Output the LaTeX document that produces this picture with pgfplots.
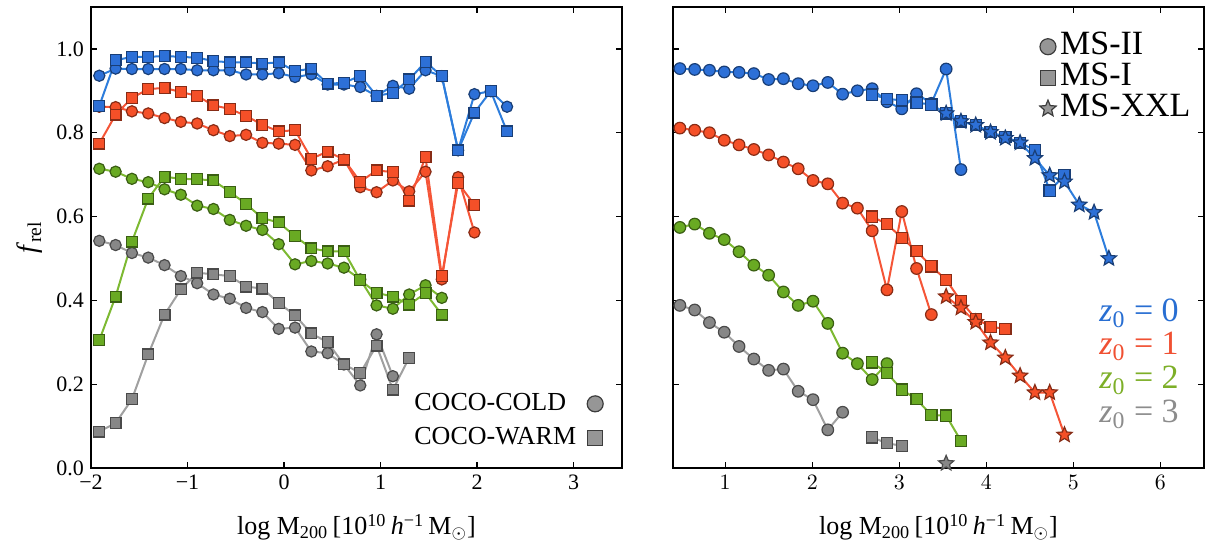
\documentclass[border=0pt]{standalone}
\usepackage{pgfplots}
\pgfplotsset{compat=1.18}
\usepackage{fontspec}
\setmainfont{Liberation Serif}

\definecolor{lb}{RGB}{45,125,220}
\definecolor{fb}{RGB}{45,112,215}
\definecolor{lr}{RGB}{245,85,55}
\definecolor{fr}{RGB}{245,80,40}
\definecolor{lgr}{RGB}{125,185,50}
\definecolor{fg}{RGB}{105,170,35}
\definecolor{lk}{RGB}{160,160,160}
\definecolor{fk}{RGB}{135,135,135}
\definecolor{legf}{RGB}{150,150,150}
\definecolor{lege}{RGB}{60,60,60}
\definecolor{tb}{RGB}{40,110,210}
\definecolor{tr}{RGB}{240,80,50}
\definecolor{tg}{RGB}{125,175,40}
\definecolor{tk}{RGB}{140,140,140}

\pgfdeclareplotmark{fstar}{%
  \pgfpathmoveto{\pgfpointpolar{90}{\pgfplotmarksize}}%
  \pgfpathlineto{\pgfpointpolar{126}{0.45\pgfplotmarksize}}%
  \pgfpathlineto{\pgfpointpolar{162}{\pgfplotmarksize}}%
  \pgfpathlineto{\pgfpointpolar{198}{0.45\pgfplotmarksize}}%
  \pgfpathlineto{\pgfpointpolar{234}{\pgfplotmarksize}}%
  \pgfpathlineto{\pgfpointpolar{270}{0.45\pgfplotmarksize}}%
  \pgfpathlineto{\pgfpointpolar{306}{\pgfplotmarksize}}%
  \pgfpathlineto{\pgfpointpolar{342}{0.45\pgfplotmarksize}}%
  \pgfpathlineto{\pgfpointpolar{18}{\pgfplotmarksize}}%
  \pgfpathlineto{\pgfpointpolar{54}{0.45\pgfplotmarksize}}%
  \pgfpathclose
  \pgfusepathqfillstroke}

\pgfplotsset{
  ser/.style 2 args={color=#1, line width=1pt, forget plot,
    mark options={fill=#2, draw=#2!55!black, line width=0.6pt, solid}},
  panel/.style={scale only axis, width=265.4pt, height=230.5pt,
    ymin=0, ymax=1.1, ytick={0,0.2,0.4,0.6,0.8,1},
    tick align=inside, axis line style={line width=0.8pt},
    major tick length=3pt, tick style={line width=0.6pt, black},
    ticklabel style={font=\fontsize{11}{13}\selectfont},
    xlabel style={at={(rel axis cs:0.5,0)}, anchor=base, yshift=-33.5pt,
      font=\fontsize{13}{15}\selectfont},
    xlabel={log M\textsubscript{200}\,[10\textsuperscript{10}\,\textit{h}\textsuperscript{−1}\,M$_\odot$]},
    legend image code/.code={\draw[##1] plot coordinates {(0pt,0pt)};},
  },
}

\begin{document}
\begin{tikzpicture}
\path[use as bounding box] (0,0) rectangle (605.5pt,272.5pt);
\begin{axis}[panel, at={(45.5pt,38.5pt)}, anchor=south west,
  xmin=-2, xmax=3.5, xtick={-2,-1,0,1,2,3}, xticklabels={−2,−1,0,1,2,3},
  yticklabels={0.0,0.2,0.4,0.6,0.8,1.0},
  legend cell align=left, legend plot pos=right,
  legend style={draw=none, fill=none, at={(0.977,0.019)}, anchor=south east,
    font=\fontsize{13}{13}\selectfont, column sep=5.5pt, row sep=0pt,
    nodes={inner sep=0pt, text height=12pt, text depth=5pt}},
]
% gray z0=3
\addplot[ser={lk}{fk}, mark=*, mark size=2.8pt] coordinates {(-1.914,0.542)(-1.745,0.532)(-1.576,0.513)(-1.407,0.502)(-1.238,0.484)(-1.069,0.458)(-0.900,0.441)(-0.731,0.414)(-0.562,0.404)(-0.393,0.382)(-0.224,0.372)(-0.055,0.332)(0.114,0.335)(0.283,0.278)(0.452,0.274)(0.621,0.247)(0.790,0.197)(0.959,0.319)(1.128,0.219)};
\addplot[ser={lk}{fk}, mark=square*, mark size=2.7pt] coordinates {(-1.914,0.087)(-1.745,0.107)(-1.576,0.164)(-1.407,0.271)(-1.238,0.366)(-1.069,0.426)(-0.900,0.466)(-0.731,0.462)(-0.562,0.458)(-0.393,0.433)(-0.224,0.428)(-0.055,0.394)(0.114,0.364)(0.283,0.321)(0.452,0.300)(0.621,0.247)(0.790,0.227)(0.959,0.292)(1.128,0.187)(1.297,0.263)};
% green z0=2
\addplot[ser={lgr}{fg}, mark=*, mark size=2.8pt] coordinates {(-1.914,0.714)(-1.745,0.707)(-1.576,0.690)(-1.407,0.682)(-1.238,0.665)(-1.069,0.652)(-0.900,0.626)(-0.731,0.618)(-0.562,0.592)(-0.393,0.578)(-0.224,0.568)(-0.055,0.534)(0.114,0.486)(0.283,0.494)(0.452,0.488)(0.621,0.478)(0.790,0.450)(0.959,0.388)(1.128,0.380)(1.297,0.414)(1.466,0.436)(1.635,0.406)};
\addplot[ser={lgr}{fg}, mark=square*, mark size=2.7pt] coordinates {(-1.914,0.305)(-1.745,0.409)(-1.576,0.540)(-1.407,0.643)(-1.238,0.695)(-1.069,0.690)(-0.900,0.689)(-0.731,0.686)(-0.562,0.659)(-0.393,0.630)(-0.224,0.596)(-0.055,0.586)(0.114,0.553)(0.283,0.524)(0.452,0.517)(0.621,0.517)(0.790,0.448)(0.959,0.418)(1.128,0.409)(1.297,0.390)(1.466,0.417)(1.635,0.366)};
% red z0=1
\addplot[ser={lr}{fr}, mark=*, mark size=2.8pt] coordinates {(-1.914,0.862)(-1.745,0.861)(-1.576,0.851)(-1.407,0.846)(-1.238,0.835)(-1.069,0.826)(-0.900,0.822)(-0.731,0.806)(-0.562,0.792)(-0.393,0.795)(-0.224,0.776)(-0.055,0.774)(0.114,0.771)(0.283,0.710)(0.452,0.720)(0.621,0.736)(0.790,0.670)(0.959,0.658)(1.128,0.686)(1.297,0.660)(1.466,0.707)(1.635,0.450)(1.804,0.694)(1.973,0.562)};
\addplot[ser={lr}{fr}, mark=square*, mark size=2.7pt] coordinates {(-1.914,0.774)(-1.745,0.843)(-1.576,0.883)(-1.407,0.904)(-1.238,0.907)(-1.069,0.897)(-0.900,0.888)(-0.731,0.865)(-0.562,0.857)(-0.393,0.840)(-0.224,0.819)(-0.055,0.803)(0.114,0.806)(0.283,0.738)(0.452,0.755)(0.621,0.736)(0.790,0.683)(0.959,0.710)(1.128,0.706)(1.297,0.638)(1.466,0.742)(1.635,0.458)(1.804,0.680)(1.973,0.628)};
% blue z0=0
\addplot[ser={lb}{fb}, mark=*, mark size=2.8pt] coordinates {(-1.914,0.936)(-1.745,0.953)(-1.576,0.952)(-1.407,0.952)(-1.238,0.952)(-1.069,0.952)(-0.900,0.949)(-0.731,0.949)(-0.562,0.949)(-0.393,0.939)(-0.224,0.939)(-0.055,0.942)(0.114,0.933)(0.283,0.939)(0.452,0.915)(0.621,0.915)(0.790,0.909)(0.959,0.888)(1.128,0.912)(1.297,0.905)(1.466,0.949)(1.635,0.935)(1.804,0.758)(1.973,0.892)(2.142,0.899)(2.311,0.862)};
\addplot[ser={lb}{fb}, mark=square*, mark size=2.7pt] coordinates {(-1.914,0.864)(-1.745,0.973)(-1.576,0.981)(-1.407,0.981)(-1.238,0.983)(-1.069,0.981)(-0.900,0.979)(-0.731,0.971)(-0.562,0.968)(-0.393,0.968)(-0.224,0.965)(-0.055,0.968)(0.114,0.947)(0.283,0.953)(0.452,0.917)(0.621,0.919)(0.790,0.936)(0.959,0.888)(1.128,0.895)(1.297,0.927)(1.466,0.969)(1.635,0.935)(1.804,0.758)(1.973,0.848)(2.142,0.899)(2.311,0.803)};
\addlegendimage{only marks, mark=*, mark size=4pt, mark options={fill=legf, draw=lege, line width=0.6pt}}
\addlegendentry{COCO-COLD}
\addlegendimage{only marks, mark=square*, mark size=3.8pt, mark options={fill=legf, draw=lege, line width=0.6pt}}
\addlegendentry{COCO-WARM}
\end{axis}
\node[xshift=-30.5pt, rotate=90, anchor=center, font=\fontsize{14}{16}\selectfont] at (45.5pt,153.75pt) {\textit{f}\textsubscript{rel}};

\begin{axis}[panel, at={(336.5pt,38.5pt)}, anchor=south west,
  xmin=0.4, xmax=6.5, xtick={1,2,3,4,5,6}, yticklabels={},
  legend cell align=left,
  legend style={draw=none, fill=none, at={(0.987,0.957)}, anchor=north east,
    font=\fontsize{17}{17}\selectfont, column sep=2pt, row sep=0pt,
    nodes={inner sep=0pt, text height=11.5pt, text depth=4pt}},
]
% gray
\addplot[ser={lk}{fk}, mark=*, mark size=2.9pt] coordinates {(0.479,0.388)(0.649,0.377)(0.819,0.347)(0.989,0.324)(1.159,0.290)(1.329,0.260)(1.499,0.233)(1.669,0.236)(1.839,0.183)(2.009,0.163)(2.179,0.091)(2.349,0.133)};
\addplot[ser={lk}{fk}, mark=square*, mark size=2.8pt] coordinates {(2.689,0.073)(2.859,0.059)(3.029,0.053)};
\addplot[ser={lk}{fk}, mark=fstar, mark size=4pt] coordinates {(3.539,0.011)};
% green
\addplot[ser={lgr}{fg}, mark=*, mark size=2.9pt] coordinates {(0.479,0.574)(0.649,0.582)(0.819,0.560)(0.989,0.545)(1.159,0.516)(1.329,0.484)(1.499,0.460)(1.669,0.420)(1.839,0.388)(2.009,0.398)(2.179,0.345)(2.349,0.274)(2.519,0.249)(2.689,0.211)(2.859,0.249)};
\addplot[ser={lgr}{fg}, mark=square*, mark size=2.8pt] coordinates {(2.689,0.252)(2.859,0.227)(3.029,0.187)(3.199,0.164)(3.369,0.126)(3.539,0.125)(3.709,0.065)};
% red
\addplot[ser={lr}{fr}, mark=*, mark size=2.9pt] coordinates {(0.479,0.811)(0.649,0.806)(0.819,0.800)(0.989,0.782)(1.159,0.771)(1.329,0.760)(1.499,0.747)(1.669,0.730)(1.839,0.714)(2.009,0.686)(2.179,0.678)(2.349,0.632)(2.519,0.620)(2.689,0.566)(2.859,0.425)(3.029,0.612)(3.199,0.476)(3.369,0.366)};
\addplot[ser={lr}{fr}, mark=square*, mark size=2.8pt] coordinates {(2.689,0.600)(2.859,0.582)(3.029,0.549)(3.199,0.518)(3.369,0.481)(3.539,0.449)(3.709,0.398)(3.879,0.356)(4.049,0.337)(4.219,0.332)};
\addplot[ser={lr}{fr}, mark=fstar, mark size=4pt] coordinates {(3.539,0.409)(3.709,0.382)(3.879,0.348)(4.049,0.299)(4.219,0.263)(4.389,0.220)(4.559,0.180)(4.729,0.180)(4.899,0.079)};
% blue
\addplot[ser={lb}{fb}, mark=*, mark size=2.9pt] coordinates {(0.479,0.953)(0.649,0.951)(0.819,0.949)(0.989,0.945)(1.159,0.944)(1.329,0.941)(1.499,0.927)(1.669,0.929)(1.839,0.917)(2.009,0.912)(2.179,0.920)(2.349,0.892)(2.519,0.900)(2.689,0.905)(2.859,0.874)(3.029,0.857)(3.199,0.893)(3.369,0.870)(3.539,0.952)(3.709,0.712)};
\addplot[ser={lb}{fb}, mark=square*, mark size=2.8pt] coordinates {(2.689,0.891)(2.859,0.881)(3.029,0.877)(3.199,0.872)(3.369,0.867)(3.539,0.846)(3.709,0.827)(3.879,0.818)(4.049,0.801)(4.219,0.790)(4.389,0.776)(4.559,0.758)(4.729,0.662)(4.899,0.698)};
\addplot[ser={lb}{fb}, mark=fstar, mark size=4pt] coordinates {(3.539,0.846)(3.709,0.827)(3.879,0.818)(4.049,0.801)(4.219,0.787)(4.389,0.776)(4.559,0.739)(4.729,0.698)(4.899,0.683)(5.069,0.628)(5.239,0.610)(5.409,0.500)};
\addlegendimage{only marks, mark=*, mark size=4pt, mark options={fill=legf, draw=lege, line width=0.6pt}}
\addlegendentry{MS-II}
\addlegendimage{only marks, mark=square*, mark size=3.8pt, mark options={fill=legf, draw=lege, line width=0.6pt}}
\addlegendentry{MS-I}
\addlegendimage{only marks, mark=fstar, mark size=4.3pt, mark options={fill=legf, draw=lege, line width=0.6pt}}
\addlegendentry{MS-XXL}
\node[anchor=base east, xshift=-9pt, yshift=73pt, text=tb, font=\fontsize{17}{17}\selectfont] at (rel axis cs:1,0) {\textit{z}\textsubscript{0} = 0};
\node[anchor=base east, xshift=-9pt, yshift=56.5pt, text=tr, font=\fontsize{17}{17}\selectfont] at (rel axis cs:1,0) {\textit{z}\textsubscript{0} = 1};
\node[anchor=base east, xshift=-9pt, yshift=39.5pt, text=tg, font=\fontsize{17}{17}\selectfont] at (rel axis cs:1,0) {\textit{z}\textsubscript{0} = 2};
\node[anchor=base east, xshift=-9pt, yshift=22.5pt, text=tk, font=\fontsize{17}{17}\selectfont] at (rel axis cs:1,0) {\textit{z}\textsubscript{0} = 3};
\end{axis}
\end{tikzpicture}
\end{document}
